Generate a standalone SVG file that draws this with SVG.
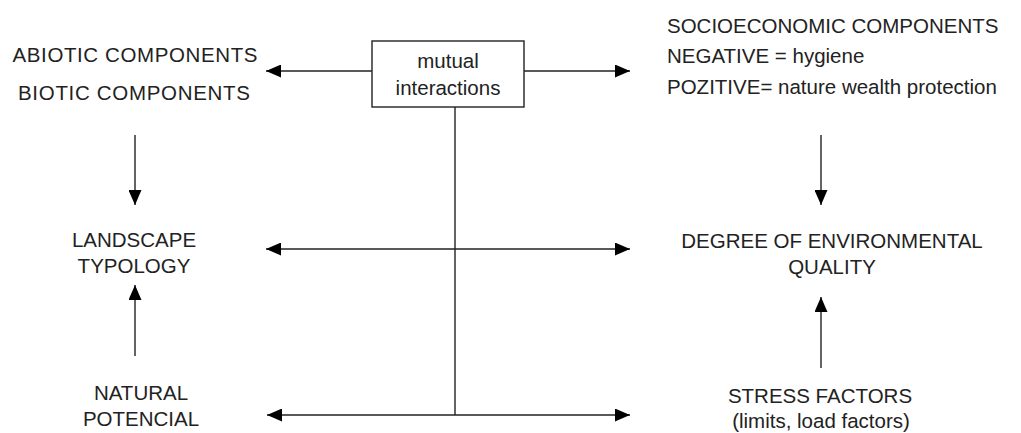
<svg xmlns="http://www.w3.org/2000/svg" width="1021" height="433" viewBox="0 0 1021 433">
<style>
text{font-family:"Liberation Sans",Arial,sans-serif;font-size:20.5px;fill:#222}
.c{text-anchor:middle}
.ln{stroke:#222;stroke-width:1.4;fill:none}
</style>
<defs>
<marker id="ah" markerUnits="userSpaceOnUse" markerWidth="15" markerHeight="13" viewBox="0 0 15 13" refX="15" refY="6.5" orient="auto">
<path d="M0,0 L15,6.5 L0,13 Z" fill="#000"/>
</marker>
</defs>
<rect width="1021" height="433" fill="#fff"/>
<g id="connectors">
<line class="ln" x1="372" y1="71" x2="266" y2="71" marker-end="url(#ah)"/>
<line class="ln" x1="524" y1="71" x2="630" y2="71" marker-end="url(#ah)"/>
<line class="ln" x1="455" y1="107" x2="455" y2="415"/>
<line class="ln" x1="455" y1="249" x2="266" y2="249" marker-end="url(#ah)"/>
<line class="ln" x1="455" y1="249" x2="630" y2="249" marker-end="url(#ah)"/>
<line class="ln" x1="455" y1="415" x2="267" y2="415" marker-end="url(#ah)"/>
<line class="ln" x1="455" y1="415" x2="630" y2="415" marker-end="url(#ah)"/>
<line class="ln" x1="135" y1="135" x2="135" y2="205" marker-end="url(#ah)"/>
<line class="ln" x1="135" y1="356" x2="135" y2="285" marker-end="url(#ah)"/>
<line class="ln" x1="821" y1="135" x2="821" y2="205" marker-end="url(#ah)"/>
<line class="ln" x1="821" y1="368" x2="821" y2="297" marker-end="url(#ah)"/>
</g>
<g id="mutual">
<rect x="372" y="41" width="152" height="66" fill="#fff" stroke="#222" stroke-width="1.4"/>
<text class="c" x="448" y="68">mutual</text>
<text class="c" x="448" y="95">interactions</text>
</g>
<g id="components">
<text class="c" x="135" y="62" textLength="245">ABIOTIC COMPONENTS</text>
<text class="c" x="134" y="100" textLength="232">BIOTIC COMPONENTS</text>
</g>
<g id="landscape">
<text class="c" x="134" y="247">LANDSCAPE</text>
<text class="c" x="134" y="273">TYPOLOGY</text>
</g>
<g id="natural">
<text class="c" x="141" y="400">NATURAL</text>
<text class="c" x="141" y="426">POTENCIAL</text>
</g>
<g id="socio">
<text x="667" y="33">SOCIOECONOMIC COMPONENTS</text>
<text x="667" y="63">NEGATIVE = hygiene</text>
<text x="667" y="94">POZITIVE= nature wealth protection</text>
</g>
<g id="degree">
<text class="c" x="832" y="248">DEGREE OF ENVIRONMENTAL</text>
<text class="c" x="832" y="274">QUALITY</text>
</g>
<g id="stress">
<text class="c" x="820" y="403">STRESS FACTORS</text>
<text class="c" x="821" y="428">(limits, load factors)</text>
</g>
</svg>
